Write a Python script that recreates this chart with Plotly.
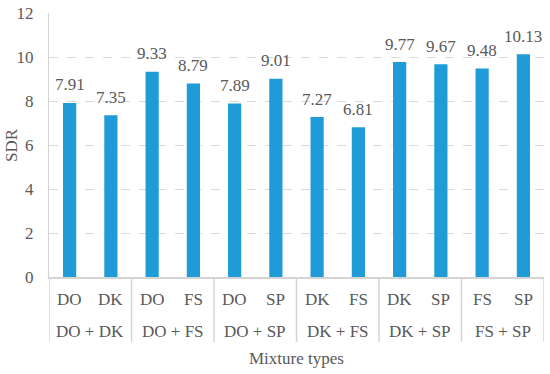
import plotly.graph_objects as go

group_names = ["DO + DK", "DO + FS", "DO + SP", "DK + FS", "DK + SP", "FS + SP"]
components = ["DO", "DK", "DO", "FS", "DO", "SP", "DK", "FS", "DK", "SP", "FS", "SP"]
sdr = [7.91, 7.35, 9.33, 8.79, 7.89, 9.01, 7.27, 6.81, 9.77, 9.67, 9.48, 10.13]
y_ticks = [0, 2, 4, 6, 8, 10, 12]

labels = [f"{v:.2f}" for v in sdr]
xpos = list(range(len(sdr)))

font_fam = "Liberation Serif, Times New Roman, serif"
gray = "#595959"
line_gray = "#d4d4d4"

W, H = 550, 374
ml, mr, mt, mb = 49, 6, 13, 97
plot_h = H - mt - mb

fig = go.Figure(go.Bar(
    x=xpos, y=sdr,
    marker=dict(color="#1f9bd7", line=dict(width=0)),
    width=0.32,
    hoverinfo="y",
))

annotations = []
# data labels
for x, v, t in zip(xpos, sdr, labels):
    annotations.append(dict(x=x, y=v, xref="x", yref="y", text=t, showarrow=False,
                            yanchor="middle", yshift=18,
                            font=dict(family=font_fam, size=17, color=gray)))
# level-1 category labels
for x, c in zip(xpos, components):
    annotations.append(dict(x=x, y=0, xref="x", yref="paper", text=c, showarrow=False,
                            yanchor="middle", yshift=-22,
                            font=dict(family=font_fam, size=17, color=gray)))
# level-2 group labels
for i, g in enumerate(group_names):
    annotations.append(dict(x=2 * i + 0.5, y=0, xref="x", yref="paper", text=g, showarrow=False,
                            yanchor="middle", yshift=-54,
                            font=dict(family=font_fam, size=17, color=gray)))
# axis titles
annotations.append(dict(x=0.5, y=0, xref="paper", yref="paper", text="Mixture types",
                        showarrow=False, yanchor="middle", yshift=-81,
                        font=dict(family=font_fam, size=17, color=gray)))
annotations.append(dict(x=0, y=0.5, xref="paper", yref="paper", text="SDR", textangle=-90,
                        showarrow=False, xanchor="center", xshift=-38,
                        font=dict(family=font_fam, size=17, color=gray)))

shapes = []
div_len = (342 - (H - mb)) / plot_h
for i in range(len(group_names) + 1):
    shapes.append(dict(type="line", xref="x", yref="paper", x0=2 * i - 0.5, x1=2 * i - 0.5,
                       y0=0, y1=-div_len, line=dict(color=line_gray, width=1.5)))

fig.update_layout(
    width=W, height=H,
    margin=dict(l=ml, r=mr, t=mt, b=mb),
    plot_bgcolor="white", paper_bgcolor="white",
    font=dict(family=font_fam, size=17, color=gray),
    showlegend=False,
    annotations=annotations,
    shapes=shapes,
    xaxis=dict(
        range=[-0.5, len(sdr) - 0.5],
        showticklabels=False, ticks="",
        showline=True, linecolor=line_gray, linewidth=1.5,
        showgrid=False, zeroline=False, fixedrange=True,
    ),
    yaxis=dict(
        range=[0, 12], tickvals=y_ticks, ticktext=[str(t) for t in y_ticks],
        showgrid=True, gridcolor="#d9d9d9", griddash="dash", gridwidth=1,
        zeroline=False, showline=True, linecolor=line_gray, linewidth=1,
        tickfont=dict(family=font_fam, size=17, color=gray),
        ticks="", ticklabelstandoff=11, automargin=False, fixedrange=True,
    ),
)

fig.write_html(
    "out.html",
    config={"displayModeBar": False},
    post_script="document.body.style.margin='0';document.body.style.overflow='hidden';",
)
